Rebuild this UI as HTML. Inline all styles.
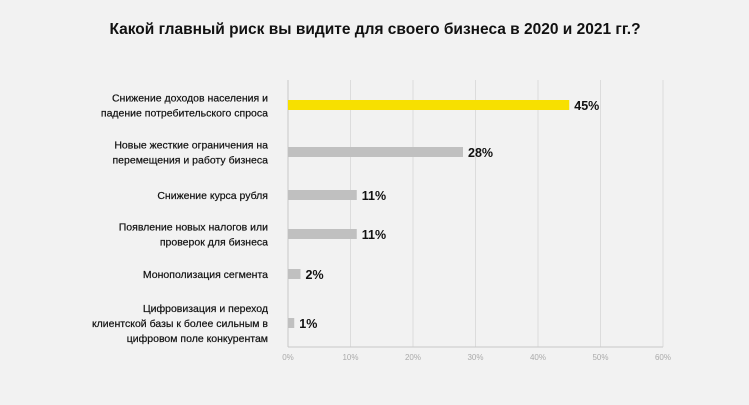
<!DOCTYPE html>
<html><head><meta charset="utf-8"><style>
body{margin:0;background:#f2f2f2;width:749px;height:400px;overflow:hidden;font-family:"Liberation Sans","DejaVu Sans",sans-serif}
</style></head><body>
<svg width="749" height="400">
<text x="375" y="34" text-anchor="middle" font-size="15.5" font-weight="bold" fill="#111">Какой главный риск вы видите для своего бизнеса в 2020 и 2021 гг.?</text>
<g id="grid"></g><g id="bars"></g><g id="labels"></g>
</svg>
<script>
const categories=[["Снижение доходов населения и","падение потребительского спроса"],["Новые жесткие ограничения на","перемещения и работу бизнеса"],["Снижение курса рубля"],["Появление новых налогов или","проверок для бизнеса"],["Монополизация сегмента"],["Цифровизация и переход","клиентской базы к более сильным в","цифровом поле конкурентам"]];
const values=[45,28,11,11,2,1];
const rowCenters=[105,152,195,234,274,323];
const ticks=[0,10,20,30,40,50,60];
const NS="http://www.w3.org/2000/svg";
const x=v=>288+v*6.25;
function mk(t,a,p){const e=document.createElementNS(NS,t);for(const k in a)e.setAttribute(k,a[k]);p.appendChild(e);return e;}
const g=document.getElementById('grid'),b=document.getElementById('bars'),l=document.getElementById('labels');
ticks.forEach(t=>{const ln=mk('line',{x1:x(t),x2:x(t),y1:80,y2:347,stroke:t===0?'#c8c8c8':'#dcdcdc','stroke-width':1},g);


const tx=mk('text',{x:x(t),y:360,'text-anchor':'middle','font-size':8,fill:'#aaa'},g);tx.textContent=t+'%';

});
mk('line',{x1:288,x2:x(60),y1:347,y2:347,stroke:'#c8c8c8'},g);
values.forEach((v,i)=>{const cy=rowCenters[i];
const r=mk('rect',{x:x(0),y:cy-5,width:x(v)-x(0),height:10,fill:i===0?'#f7e000':'#c0c0c0'},b);


const t=mk('text',{x:x(v)+5,y:cy+5,'font-size':12.5,'font-weight':'bold',fill:'#111'},b);t.textContent=v+'%';


const lines=categories[i];const n=lines.length;
lines.forEach((s,j)=>{const tt=mk('text',{x:268,y:cy+4+(j-(n-1)/2)*15,'text-anchor':'end','font-size':10.5,fill:'#111','stroke':'#111','stroke-width':0.2},l);tt.textContent=s;

});});
</script>
</body></html>
